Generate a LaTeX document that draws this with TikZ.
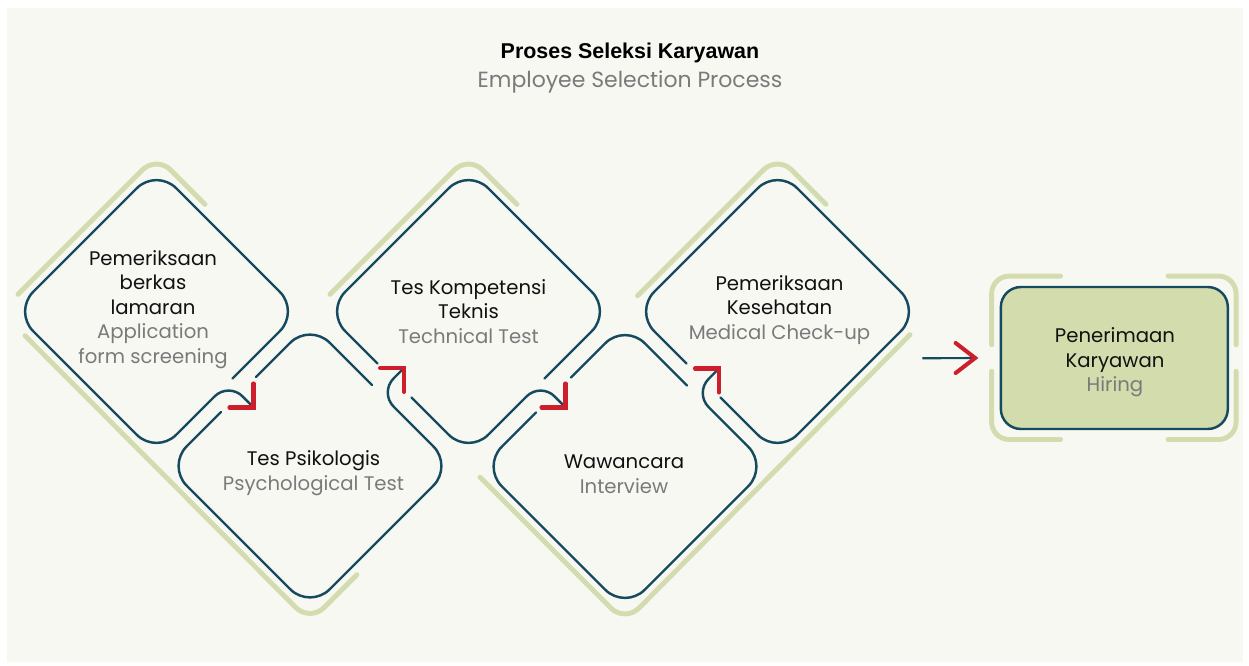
\documentclass[tikz,border=0pt]{standalone}
\usepackage{fontspec}
\setmainfont{Poppins}
\newfontfamily\titlefont{Liberation Sans}
\usetikzlibrary{calc}
\definecolor{ink}{HTML}{164A5F}
\definecolor{accent}{HTML}{D2DCAE}
\definecolor{hirefill}{HTML}{D3DCAC}
\definecolor{arrowred}{HTML}{CC1F2B}
\definecolor{subgray}{HTML}{7A7A7A}
\definecolor{panel}{HTML}{F8F8F3}
\definecolor{textblack}{HTML}{111111}
\tikzset{
  outline/.style={draw=ink, line width=1.4pt, line cap=round, rounded corners=0.56cm},
  hump/.style={draw=ink, line width=1.4pt, line cap=round, rounded corners=0.4cm},
  greenline/.style={draw=accent, line width=2.8pt, line cap=round, rounded corners=0.4cm},
  bracket/.style={draw=accent, line width=2.8pt, line cap=round, rounded corners=0.35cm},
  chev/.style={draw=arrowred, line width=2.3pt, line cap=round, line join=miter},
  steplabel/.style={align=center, font=\fontsize{11.2}{14}\selectfont, text=textblack, inner sep=0pt},
  hirebox/.style={draw=ink, line width=1.4pt, fill=hirefill, rounded corners=0.4cm, minimum width=4.54cm, minimum height=2.84cm, inner sep=0pt}
}
\begin{document}
\begin{tikzpicture}[x=0.02cm, y=-0.02cm]
\useasboundingbox (0,0) rectangle (1249,666);
\fill[white] (0,0) rectangle (1249,666);
\fill[panel] (7,8) rectangle (1243,662);

% centres
\coordinate (c1) at (156.5,311.5);
\coordinate (c2) at (310,466);
\coordinate (c3) at (468.5,311.5);
\coordinate (c4) at (625,466.5);
\coordinate (c5) at (777.5,311.5);

% green accents
\draw[greenline] ($(c1)+(-138.5,-17.2)$) -- ($(c1)+(0,-155.7)$) -- ($(c1)+(48.5,-107.2)$);
\draw[greenline] ($(c3)+(-138.5,-17.2)$) -- ($(c3)+(0,-155.7)$) -- ($(c3)+(48.5,-107.2)$);
\draw[greenline] ($(c5)+(-140,-15.7)$) -- ($(c5)+(0,-155.7)$) -- ($(c5)+(48.5,-107.2)$);
\draw[greenline] ($(c1)+(-131.5,24.2)$) -- ($(c2)+(0,155.7)$) -- ($(c2)+(47,108.7)$);
\draw[greenline] ($(c5)+(132.5,23.2)$) -- ($(c4)+(0,155.7)$) -- ($(c4)+(-145,10.7)$);

% D1
\draw[outline] ($(c1)+(76,67)$) -- ($(c1)+(143,0)$) -- ($(c1)+(0,-143)$) -- ($(c1)+(-143,0)$) -- ($(c1)+(0,143)$) -- ($(c1)+(30,113)$);
\draw[hump] ($(c1)+(30,113)$) -- ($(c1)+(72.25,70.75)$) -- ($(c1)+(97,96)$);
% D2
\draw[outline] ($(c2)+(-89,-54)$) -- ($(c2)+(-143,0)$) -- ($(c2)+(0,143)$) -- ($(c2)+(143,0)$) -- ($(c2)+(120,-23)$);
\draw[hump] ($(c2)+(120,-23)$) -- ($(c2)+(69.5,-73.5)$) -- ($(c2)+(94,-98)$);
\draw[outline] ($(c2)+(-54,-89)$) -- ($(c2)+(0,-143)$) -- ($(c2)+(62,-81)$);
% D3
\draw[outline] ($(c3)+(-57,86)$) -- ($(c3)+(0,143)$) -- ($(c3)+(30,113)$);
\draw[hump] ($(c3)+(30,113)$) -- ($(c3)+(72.25,70.75)$) -- ($(c3)+(97,96)$);
\draw[outline] ($(c3)+(76,67)$) -- ($(c3)+(143,0)$) -- ($(c3)+(0,-143)$) -- ($(c3)+(-143,0)$) -- ($(c3)+(-91,52)$);
% D4
\draw[outline] ($(c4)+(-89,-54)$) -- ($(c4)+(-143,0)$) -- ($(c4)+(0,143)$) -- ($(c4)+(143,0)$) -- ($(c4)+(120,-23)$);
\draw[hump] ($(c4)+(120,-23)$) -- ($(c4)+(69.5,-73.5)$) -- ($(c4)+(94,-98)$);
\draw[outline] ($(c4)+(-54,-89)$) -- ($(c4)+(0,-143)$) -- ($(c4)+(62,-81)$);
% D5
\draw[outline] ($(c5)+(-57,86)$) -- ($(c5)+(0,143)$) -- ($(c5)+(143,0)$) -- ($(c5)+(0,-143)$) -- ($(c5)+(-143,0)$) -- ($(c5)+(-91,52)$);

% red chevrons
\draw[chev] ($(c1)+(97,72)$) -- ($(c1)+(97,96)$) -- ($(c1)+(73,96)$);
\draw[chev] ($(c3)+(97,72)$) -- ($(c3)+(97,96)$) -- ($(c3)+(73,96)$);
\draw[chev] ($(c2)+(70,-98)$) -- ($(c2)+(94,-98)$) -- ($(c2)+(94,-74)$);
\draw[chev] ($(c4)+(70,-98)$) -- ($(c4)+(94,-98)$) -- ($(c4)+(94,-74)$);

% hiring box
\node[hirebox] (hire) at (1114.35,358) {};
\draw[bracket] ($(hire.north west)+(61,-9.7)$) -- ($(hire.north west)+(-8,-9.7)$) -- ($(hire.north west)+(-8,59)$);
\draw[bracket] ($(hire.south west)+(-8,-59)$) -- ($(hire.south west)+(-8,9.3)$) -- ($(hire.south west)+(61,9.3)$);
\draw[bracket] ($(hire.north east)+(-61,-9.7)$) -- ($(hire.north east)+(7,-9.7)$) -- ($(hire.north east)+(7,59)$);
\draw[bracket] ($(hire.south east)+(7,-59)$) -- ($(hire.south east)+(7,9.3)$) -- ($(hire.south east)+(-61,9.3)$);

\coordinate (arrowstart) at (922.3,358.3);
\draw[draw=ink, line width=1.2pt] (arrowstart) -- ($(hire.west)+(-25,0)$);
\draw[chev] ($(hire.west)+(-44,-15)$) -- ($(hire.west)+(-24.5,0)$) -- ($(hire.west)+(-44,15)$);

% texts
\node[font=\titlefont\bfseries\fontsize{12.2}{14}\selectfont, text=black] (title) at (630,53) {Proses Seleksi Karyawan};
\node[font=\fontsize{12.5}{15}\selectfont, text=subgray] (subtitle) at (630,82) {Employee Selection Process};

\node[steplabel] (t1) at (153,309.5) {Pemeriksaan\\berkas\\lamaran\\\textcolor{subgray}{Application}\\\textcolor{subgray}{form screening}};
\node[steplabel] (t2) at (313.5,473) {Tes Psikologis\\\textcolor{subgray}{Psychological Test}};
\node[steplabel] (t3) at (468.5,311.5) {Tes Kompetensi\\Teknis\\\textcolor{subgray}{Technical Test}};
\node[steplabel] (t4) at (624,474.5) {Wawancara\\\textcolor{subgray}{Interview}};
\node[steplabel] (t5) at (779.5,310) {Pemeriksaan\\Kesehatan\\\textcolor{subgray}{Medical Check-up}};
\node[steplabel] (t6) at (1115,362.5) {Penerimaan\\Karyawan\\\textcolor{subgray}{Hiring}};
\end{tikzpicture}
\end{document}
